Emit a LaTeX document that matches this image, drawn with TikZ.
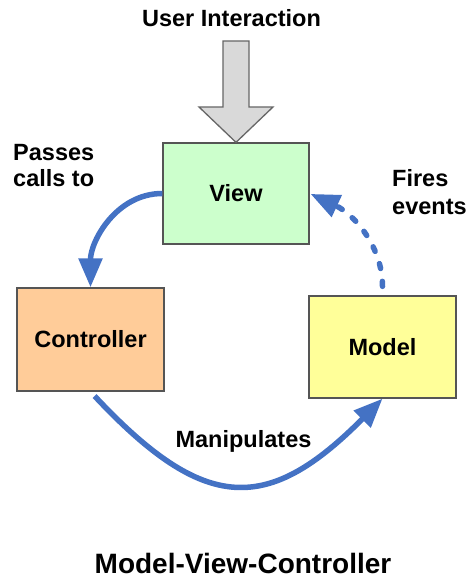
\documentclass[tikz,border=0pt]{standalone}
\usepackage{fontspec}
\setmainfont{Liberation Sans}
\usetikzlibrary{arrows.meta}
\definecolor{viewfill}{HTML}{CCFFCC}
\definecolor{ctrlfill}{HTML}{FFCC99}
\definecolor{modelfill}{HTML}{FFFF99}
\definecolor{boxline}{HTML}{555555}
\definecolor{flowblue}{HTML}{4472C4}
\definecolor{grayfill}{HTML}{D9D9D9}
\definecolor{grayline}{HTML}{666666}
\tikzset{
  mvcbox/.style={draw=boxline, line width=1.3pt, minimum width=146pt, minimum height=102pt,
    inner sep=0pt, font=\fontsize{23.5}{26}\selectfont\bfseries},
  lbl/.style={inner sep=0pt, font=\fontsize{23.5}{26}\selectfont\bfseries},
  flow/.style={draw=flowblue, line width=5.5pt, -{Triangle[length=29pt,width=23pt]}},
  dashflow/.style={flow, line cap=round, dash pattern=on 5pt off 13pt}
}
\begin{document}
\begin{tikzpicture}[x=1pt,y=1pt]
\useasboundingbox (0,0) rectangle (466,578);
\node[mvcbox, fill=viewfill, minimum width=146pt, minimum height=101pt] (view) at (236,384.5) {View};
\node[mvcbox, fill=ctrlfill, minimum width=147pt, minimum height=103pt] (ctrl) at (90.5,238.5) {Controller};
\node[mvcbox, fill=modelfill, minimum width=147pt, minimum height=102pt] (model) at (382.5,231) {Model};
% user interaction arrow
\draw[draw=grayline, fill=grayfill, line width=1.3pt, line join=miter]
  (223,537) -- (249,537) -- (249,471) -- (273,471) -- (view.north) -- (199,471) -- (223,471) -- cycle;
\node[lbl, anchor=base] (ui) at (231.5,551) {User Interaction};
% connectors
\draw[flow] (view.west) to[out=180,in=90] (ctrl.north);
\draw[dashflow, shorten <=9pt, shorten >=1pt] (model.north) to[out=90,in=-25] (view.east);
\draw[flow, shorten <=6pt] (ctrl.south) .. controls (205,64) and (268,64) .. (model.south);
% labels
\node[lbl, anchor=base west, align=left, font=\fontsize{23.5}{26}\selectfont\bfseries] (passes) at (13,391) {Passes\\calls to};
\node[lbl, anchor=base west, align=left, font=\fontsize{23.5}{28}\selectfont\bfseries] (fires) at (392,363) {Fires\\events};
\node[lbl, anchor=base] (manip) at (243.5,130) {Manipulates};
\node[inner sep=0pt, anchor=base, font=\fontsize{28}{30}\selectfont\bfseries] (title) at (243,5) {Model-View-Controller};
\end{tikzpicture}
\end{document}
